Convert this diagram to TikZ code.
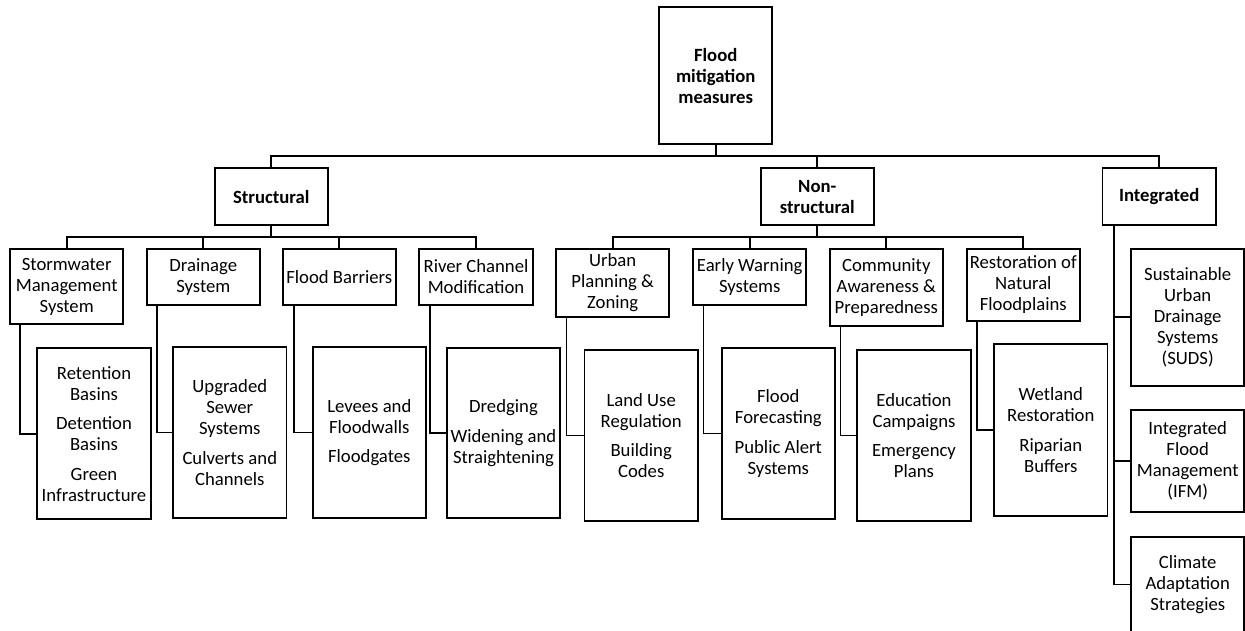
\documentclass[tikz,border=0pt]{standalone}
\usepackage{fontspec}
\setmainfont{Carlito}
\usepackage{tikz}

\begin{document}
\begin{tikzpicture}[x=1pt,y=-1pt,
  every node/.style={font=\fontsize{18.7}{21}\selectfont},
  box/.style={draw,line width=1.8pt,align=center,inner sep=0pt,minimum width=113.3pt},
  head/.style={box,font=\fontsize{18.7}{21}\selectfont\bfseries},
  link/.style={line width=1.8pt}]

  \clip (0,0) rectangle (1245,630);
  \def \gap {8.6pt}

  % top levels
  \node[head,minimum height=137] (root) at (715.7,75.8) {Flood\\mitigation\\measures};
  \node[head,minimum height=57.3] (strc) at (271.3,196.7) {Structural};
  \node[head,minimum height=57.3] (nonst) at (817.3,196.7) {Non-\\structural};
  \node[head,minimum height=57.3] (integ) at (1159.2,196.7) {Integrated};
  \coordinate (topbar) at (0,155.7);
  \coordinate (subbar) at (0,237);

  % structural
  \node[box,minimum height=75] (storm) at (66.7,286.5) {Stormwater\\Management\\System};
  \node[box,minimum height=56] (drain) at (203.3,277) {Drainage\\System};
  \node[box,minimum height=56] (barr) at (339.3,277) {Flood Barriers};
  \node[box,minimum height=56] (river) at (476,277) {River Channel\\Modification};

  \node[box,minimum height=171] (ret) at (94,433.8)
    {Retention\\Basins\\[\gap]Detention\\Basins\\[\gap]Green\\Infrastructure};
  \node[box,minimum height=170.4] (upg) at (229.8,432.5)
    {Upgraded\\Sewer\\Systems\\[\gap]Culverts and\\Channels};
  \node[box,minimum height=170.4] (lev) at (369.3,432.5)
    {Levees and\\Floodwalls\\[\gap]Floodgates};
  \node[box,minimum height=170] (dred) at (503.5,433.3)
    {Dredging\\[\gap]Widening and\\Straightening};

  % non-structural
  \node[box,minimum height=67.7] (urban) at (612.7,282.8) {Urban\\Planning \&\\Zoning};
  \node[box,minimum height=56] (early) at (749.7,277) {Early Warning\\Systems};
  \node[box,minimum height=77] (comm) at (886.3,287.5) {Community\\Awareness \&\\Preparedness};
  \node[box,minimum height=71.7] (rest) at (1023.3,284.8) {Restoration of\\Natural\\Floodplains};

  \node[box,minimum height=171] (land) at (641.2,435.5)
    {Land Use\\Regulation\\[\gap]Building\\Codes};
  \node[box,minimum height=170.4] (fcast) at (778.3,433.5)
    {Flood\\Forecasting\\[\gap]Public Alert\\Systems};
  \node[box,minimum height=171] (edu) at (914,435.5)
    {Education\\Campaigns\\[\gap]Emergency\\Plans};
  \node[box,minimum height=171.4] (wet) at (1050.8,430)
    {Wetland\\Restoration\\[\gap]Riparian\\Buffers};

  % integrated
  \node[box,minimum height=137.3] (suds) at (1187.7,317.3)
    {Sustainable\\Urban\\Drainage\\Systems\\(SUDS)};
  \node[box,minimum height=102.3] (ifm) at (1187.7,461.2)
    {Integrated\\Flood\\Management\\(IFM)};
  \node[box,minimum height=95] (clim) at (1187.7,584.5)
    {Climate\\Adaptation\\Strategies};

  % connectors
  \draw[link] (root.south) -- (root.south |- topbar);
  \draw[link] (strc.north) -- (strc.north |- topbar) -- (integ.north |- topbar) -- (integ.north);
  \draw[link] (nonst.north) -- (nonst.north |- topbar);

  \draw[link] (strc.south) -- (strc.south |- subbar);
  \draw[link] (storm.north) -- (storm.north |- subbar) -- (river.north |- subbar) -- (river.north);
  \draw[link] (drain.north) -- (drain.north |- subbar);
  \draw[link] (barr.north) -- (barr.north |- subbar);

  \draw[link] (nonst.south) -- (nonst.south |- subbar);
  \draw[link] (urban.north) -- (urban.north |- subbar) -- (rest.north |- subbar) -- (rest.north);
  \draw[link] (early.north) -- (early.north |- subbar);
  \draw[link] (comm.north) -- (comm.north |- subbar);

  \draw[link] ([xshift=11pt]storm.south west) |- (ret.west);
  \draw[link] ([xshift=11pt]drain.south west) |- (upg.west);
  \draw[link] ([xshift=12pt]barr.south west) |- (lev.west);
  \draw[link] ([xshift=11.4pt]river.south west) |- (dred.west);
  \draw[link] ([xshift=11.3pt]urban.south west) |- (land.west);
  \draw[link] ([xshift=11.3pt]early.south west) |- (fcast.west);
  \draw[link] ([xshift=11.7pt]comm.south west) |- (edu.west);
  \draw[link] ([xshift=11pt]rest.south west) |- (wet.west);

  \draw[link] ([xshift=12.7pt]integ.south west) |- (clim.west);
  \draw[link] ([xshift=12.7pt]integ.south west |- suds.west) -- (suds.west);
  \draw[link] ([xshift=12.7pt]integ.south west |- ifm.west) -- (ifm.west);

\end{tikzpicture}
\end{document}
